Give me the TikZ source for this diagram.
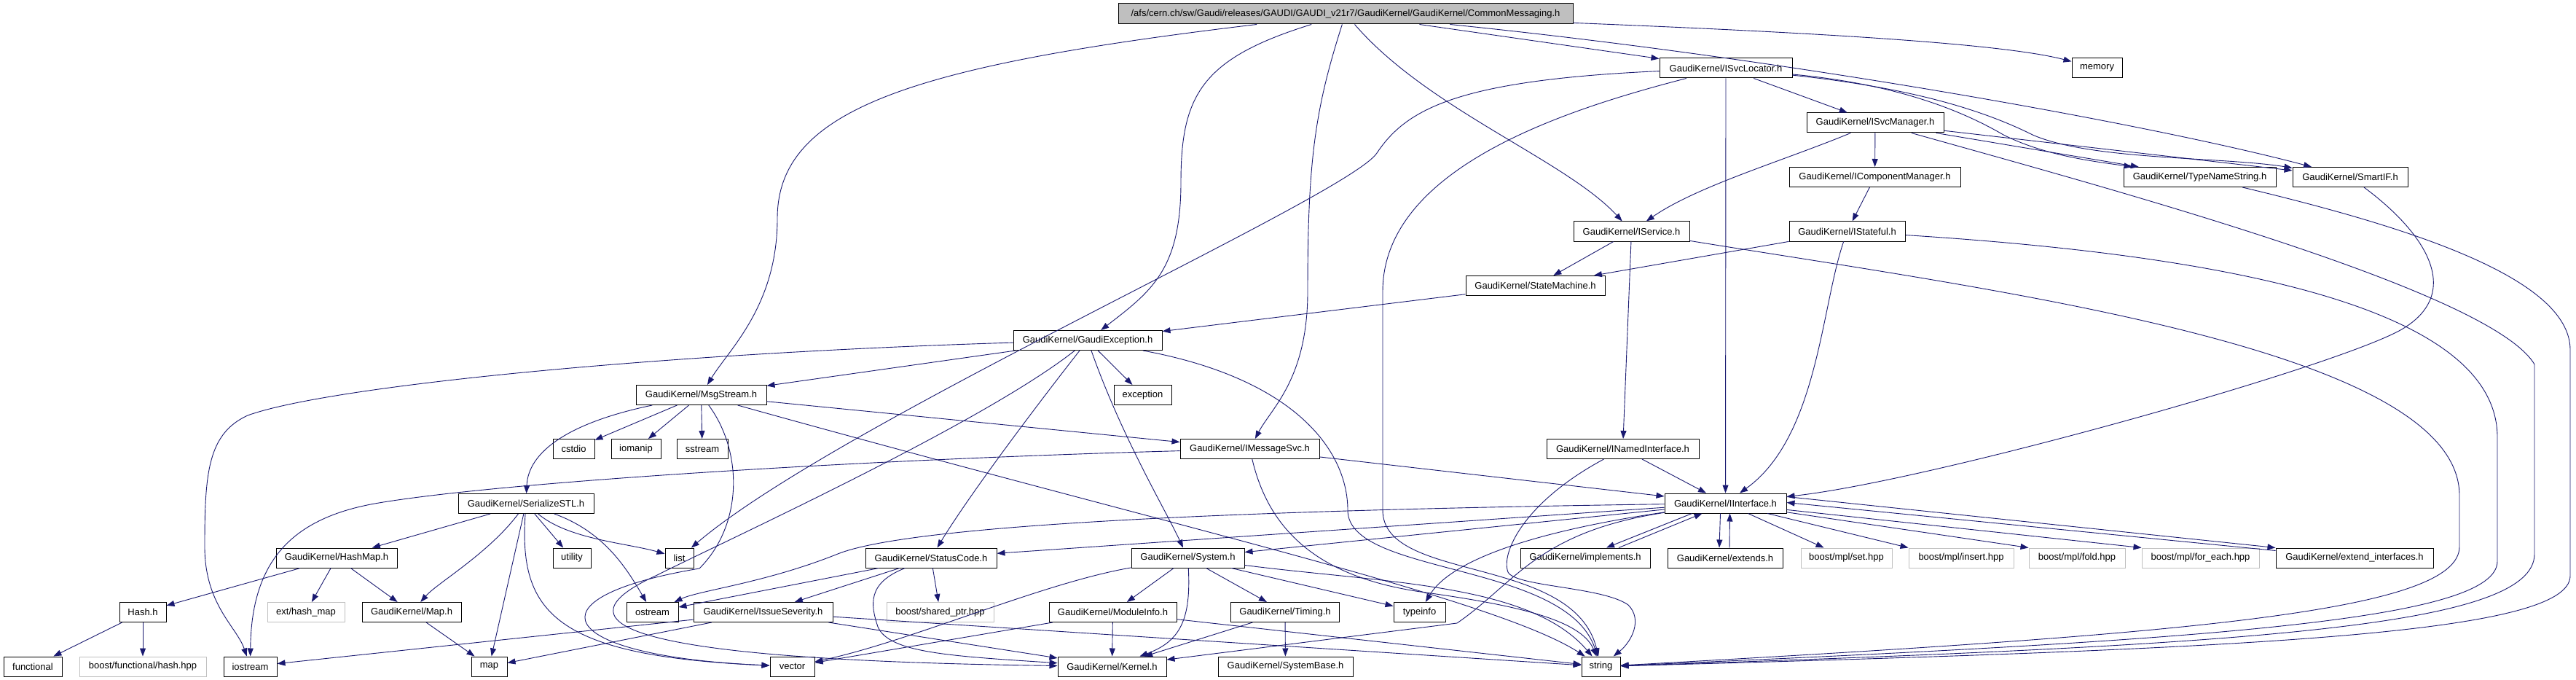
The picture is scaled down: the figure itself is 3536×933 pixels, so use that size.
\documentclass[tikz,border=0pt]{standalone}
\usepackage{fontspec}
\setmainfont{Liberation Sans}
\usetikzlibrary{arrows.meta}

\begin{document}
\begin{tikzpicture}[x=1pt, y=-1pt,
  filenode/.style={draw=black, line width=1pt, inner sep=0pt, minimum height=27pt, font=\fontsize{13}{15}\selectfont},
  sysnode/.style={filenode, draw=boxgray},
  incl/.style={draw=midnightblue, line width=0.9pt, -{Triangle[length=11pt, width=8pt]}}]

% my colors
\definecolor{midnightblue}{RGB}{25,25,112}
\definecolor{boxgray}{RGB}{191,191,191}

% canvas, fixes the size
\fill[white] (0,0) rectangle (3536,933);

% the file itself
\node[filenode, fill=boxgray, minimum width=624pt, minimum height=28pt] (main) at (1847,19) {/afs/cern.ch/sw/Gaudi/releases/GAUDI/GAUDI\_v21r7/GaudiKernel/GaudiKernel/CommonMessaging.h};

% rows of included headers, top to bottom
\node[filenode, minimum width=182pt] (ISvcLocator) at (2369,93.5) {GaudiKernel/ISvcLocator.h};
\node[filenode, minimum width=69pt] (memory) at (2878.5,93.5) {memory};

\node[filenode, minimum width=188pt] (ISvcManager) at (2574,168.5) {GaudiKernel/ISvcManager.h};

\node[filenode, minimum width=235pt] (IComponentManager) at (2573.5,243) {GaudiKernel/IComponentManager.h};
\node[filenode, minimum width=209pt] (TypeNameString) at (3019.5,243) {GaudiKernel/TypeNameString.h};
\node[filenode, minimum width=158pt] (SmartIF) at (3226,243) {GaudiKernel/SmartIF.h};

\node[filenode, minimum width=159pt] (IService) at (2239.5,317.5) {GaudiKernel/IService.h};
\node[filenode, minimum width=159pt] (IStateful) at (2535.5,317.5) {GaudiKernel/IStateful.h};

\node[filenode, minimum width=191pt] (StateMachine) at (2107.5,392) {GaudiKernel/StateMachine.h};

\node[filenode, minimum width=204pt] (GaudiException) at (1493,467) {GaudiKernel/GaudiException.h};

\node[filenode, minimum width=179pt] (MsgStream) at (962.5,542) {GaudiKernel/MsgStream.h};
\node[filenode, minimum width=79pt] (exception) at (1568.5,542) {exception};

\node[filenode, minimum width=57pt] (cstdio) at (787.5,616) {cstdio};
\node[filenode, minimum width=68pt] (iomanip) at (873,616) {iomanip};
\node[filenode, minimum width=70pt] (sstream) at (964,616) {sstream};
\node[filenode, minimum width=191pt] (IMessageSvc) at (1715.5,616) {GaudiKernel/IMessageSvc.h};
\node[filenode, minimum width=209pt] (INamedInterface) at (2227.5,616) {GaudiKernel/INamedInterface.h};

\node[filenode, minimum width=186pt] (SerializeSTL) at (722,691) {GaudiKernel/SerializeSTL.h};
\node[filenode, minimum width=167pt] (IInterface) at (2368.5,690.5) {GaudiKernel/IInterface.h};

\node[filenode, minimum width=166pt] (HashMap) at (462,765.5) {GaudiKernel/HashMap.h};
\node[filenode, minimum width=52pt] (utility) at (785,765.5) {utility};
\node[filenode, minimum width=39pt] (list) at (932.5,765.5) {list};
\node[filenode, minimum width=180pt] (StatusCode) at (1278,765.5) {GaudiKernel/StatusCode.h};
\node[filenode, minimum width=155pt] (System) at (1630.5,765.5) {GaudiKernel/System.h};
\node[filenode, minimum width=178pt] (implements) at (2176,765.5) {GaudiKernel/implements.h};
\node[filenode, minimum width=158pt] (extends) at (2368,765.5) {GaudiKernel/extends.h};
\node[sysnode, minimum width=125pt] (mplset) at (2534.5,765.5) {boost/mpl/set.hpp};
\node[sysnode, minimum width=144pt] (mplinsert) at (2692,765.5) {boost/mpl/insert.hpp};
\node[sysnode, minimum width=132pt] (mplfold) at (2851,765.5) {boost/mpl/fold.hpp};
\node[sysnode, minimum width=161pt] (mplforeach) at (3020.5,765.5) {boost/mpl/for\_each.hpp};
\node[filenode, minimum width=216pt] (extinterfaces) at (3232,765.5) {GaudiKernel/extend\_interfaces.h};

\node[filenode, minimum width=64pt] (Hash) at (196,840) {Hash.h};
\node[sysnode, minimum width=106pt] (exthashmap) at (420,840) {ext/hash\_map};
\node[filenode, minimum width=136pt] (Map) at (565,840) {GaudiKernel/Map.h};
\node[filenode, minimum width=71pt] (ostream) at (895.5,840) {ostream};
\node[filenode, minimum width=191pt] (IssueSeverity) at (1047.5,840) {GaudiKernel/IssueSeverity.h};
\node[sysnode, minimum width=147pt] (sharedptr) at (1290.5,840) {boost/shared\_ptr.hpp};
\node[filenode, minimum width=175pt] (ModuleInfo) at (1527.5,840) {GaudiKernel/ModuleInfo.h};
\node[filenode, minimum width=149pt] (Timing) at (1764,840) {GaudiKernel/Timing.h};
\node[filenode, minimum width=71pt] (typeinfo) at (1948.5,840) {typeinfo};

\node[filenode, minimum width=80pt] (functional) at (45,914.5) {functional};
\node[sysnode, minimum width=174pt] (hashhpp) at (196,914.5) {boost/functional/hash.hpp};
\node[filenode, minimum width=73pt] (iostream) at (343.5,914.5) {iostream};
\node[filenode, minimum width=49pt] (map) at (671.5,914.5) {map};
\node[filenode, minimum width=61pt] (vector) at (1087.5,914.5) {vector};
\node[filenode, minimum width=149pt] (Kernel) at (1526.5,914.5) {GaudiKernel/Kernel.h};
\node[filenode, minimum width=185pt] (SystemBase) at (1764.5,914.5) {GaudiKernel/SystemBase.h};
\node[filenode, minimum width=53pt] (string) at (2197.5,914.5) {string};

% includes of the file itself
\draw[incl] (main) .. controls (1250,90) and (1067,150) .. (1067,300) .. controls (1067,420) and (1000,480) .. (MsgStream);
\draw[incl] (main) .. controls (1650,80) and (1621,130) .. (1621,250) .. controls (1621,370) and (1580,400) .. (GaudiException);
\draw[incl] (main) .. controls (1805,150) and (1795,220) .. (1795,400) .. controls (1795,520) and (1745,560) .. (IMessageSvc);
\draw[incl] (main) .. controls (1960,150) and (2150,220) .. (IService);
\draw[incl] (main) -- (ISvcLocator);
\draw[incl] (main) .. controls (2450,80) and (2950,170) .. (SmartIF);
\draw[incl] (main) .. controls (2500,45) and (2750,60) .. (memory);

% ISvcLocator
\draw[incl] (ISvcLocator) .. controls (2000,110) and (1930,150) .. (1890,210) .. controls (1850,270) and (1150,580) .. (list);
\draw[incl] (ISvcLocator) .. controls (2150,150) and (1898,230) .. (1898,400) -- (1898,700) .. controls (1898,800) and (2160,760) .. (string);
\draw[incl] (ISvcLocator) -- (IInterface);
\draw[incl] (ISvcLocator) -- (ISvcManager);
\draw[incl] (ISvcLocator) .. controls (2600,115) and (2690,150) .. (2750,185) .. controls (2810,215) and (2880,222) .. (TypeNameString);
\draw[incl] (ISvcLocator) .. controls (2620,120) and (2720,150) .. (2790,185) .. controls (2870,220) and (3050,215) .. (SmartIF);

% ISvcManager
\draw[incl] (ISvcManager) .. controls (2450,220) and (2330,255) .. (IService);
\draw[incl] (ISvcManager) -- (IComponentManager);
\draw[incl] (ISvcManager) -- (TypeNameString);
\draw[incl] (ISvcManager) -- (SmartIF);
\draw[incl] (ISvcManager) .. controls (2900,260) and (3420,400) .. (3479,500) -- (3479,760) .. controls (3479,860) and (3100,885) .. (string);
\draw[incl] (IComponentManager) -- (IStateful);

% IService, IStateful, StateMachine
\draw[incl] (IService) -- (StateMachine);
\draw[incl] (IService) -- (INamedInterface);
\draw[incl] (IService) .. controls (2750,400) and (3376,480) .. (3376,680) -- (3376,750) .. controls (3376,840) and (3000,870) .. (string);
\draw[incl] (IStateful) -- (StateMachine);
\draw[incl] (IStateful) .. controls (2500,420) and (2495,600) .. (IInterface);
\draw[incl] (IStateful) .. controls (3050,350) and (3428,420) .. (3428,600) -- (3428,770) .. controls (3428,850) and (3050,878) .. (string);
\draw[incl] (StateMachine) -- (GaudiException);

% GaudiException
\draw[incl] (GaudiException) -- (MsgStream);
\draw[incl] (GaudiException) -- (exception);
\draw[incl] (GaudiException) .. controls (900,485) and (450,530) .. (340,570) .. controls (285,595) and (281,650) .. (281,750) .. controls (281,830) and (325,860) .. (iostream);
\draw[incl] (GaudiException) .. controls (1420,560) and (1330,680) .. (StatusCode);
\draw[incl] (GaudiException) .. controls (1350,580) and (1000,740) .. (900,790) .. controls (770,850) and (820,905) .. (Kernel);
\draw[incl] (GaudiException) .. controls (1540,600) and (1600,700) .. (System);
\draw[incl] (GaudiException) .. controls (1780,520) and (1850,620) .. (1850,700) .. controls (1850,790) and (2150,770) .. (string);

% MsgStream
\draw[incl] (MsgStream) -- (cstdio);
\draw[incl] (MsgStream) -- (iomanip);
\draw[incl] (MsgStream) -- (sstream);
\draw[incl] (MsgStream) .. controls (780,580) and (725,620) .. (SerializeSTL);
\draw[incl] (MsgStream) .. controls (1020,620) and (1020,720) .. (960,780) .. controls (720,820) and (760,900) .. (vector);
\draw[incl] (MsgStream) -- (IMessageSvc);
\draw[incl] (MsgStream) .. controls (1600,720) and (2050,820) .. (string);

% IMessageSvc
\draw[incl] (IMessageSvc) -- (IInterface);
\draw[incl] (IMessageSvc) .. controls (1200,630) and (700,660) .. (520,690) .. controls (400,710) and (345,770) .. (iostream);
\draw[incl] (IMessageSvc) .. controls (1740,720) and (1800,790) .. (1950,812) .. controls (2080,830) and (2170,850) .. (string);

% SerializeSTL, HashMap, Hash, Map
\draw[incl] (SerializeSTL) -- (HashMap);
\draw[incl] (SerializeSTL) .. controls (670,760) and (600,800) .. (Map);
\draw[incl] (SerializeSTL) -- (map);
\draw[incl] (SerializeSTL) .. controls (712,840) and (760,900) .. (vector);
\draw[incl] (SerializeSTL) -- (utility);
\draw[incl] (SerializeSTL) .. controls (780,740) and (860,745) .. (list);
\draw[incl] (SerializeSTL) .. controls (830,730) and (860,780) .. (ostream);
\draw[incl] (HashMap) -- (Hash);
\draw[incl] (HashMap) -- (exthashmap);
\draw[incl] (HashMap) -- (Map);
\draw[incl] (Hash) -- (functional);
\draw[incl] (Hash) -- (hashhpp);
\draw[incl] (Map) -- (map);

% StatusCode, IssueSeverity
\draw[incl] (StatusCode) -- (ostream);
\draw[incl] (StatusCode) -- (IssueSeverity);
\draw[incl] (StatusCode) -- (sharedptr);
\draw[incl] (StatusCode) .. controls (1190,800) and (1195,830) .. (1205,860) .. controls (1220,895) and (1300,900) .. (Kernel);
\draw[incl] (IssueSeverity) -- (iostream);
\draw[incl] (IssueSeverity) -- (map);
\draw[incl] (IssueSeverity) -- (Kernel);
\draw[incl] (IssueSeverity) -- (string);

% System, ModuleInfo, Timing
\draw[incl] (System) -- (ModuleInfo);
\draw[incl] (System) -- (Timing);
\draw[incl] (System) -- (typeinfo);
\draw[incl] (System) .. controls (1900,800) and (2100,800) .. (string);
\draw[incl] (System) .. controls (1635,850) and (1620,880) .. (Kernel);
\draw[incl] (System) .. controls (1430,800) and (1250,880) .. (vector);
\draw[incl] (ModuleInfo) -- (Kernel);
\draw[incl] (ModuleInfo) -- (vector);
\draw[incl] (ModuleInfo) -- (string);
\draw[incl] (Timing) -- (Kernel);
\draw[incl] (Timing) -- (SystemBase);

% IInterface
\draw[incl] (IInterface) .. controls (1700,700) and (1250,720) .. (1150,760) .. controls (1050,800) and (960,810) .. (ostream);
\draw[incl] (IInterface) -- (StatusCode);
\draw[incl] (IInterface) -- (System);
\draw[incl] (IInterface) .. controls (2100,730) and (1990,770) .. (typeinfo);
\draw[incl] (IInterface) .. controls (2110,730) and (2080,800) .. (2000,855) -- (Kernel);
\draw[incl] ([xshift=-46pt]IInterface.south) -- ([xshift=29pt]implements.north);
\draw[incl] ([xshift=46pt]implements.north) -- ([xshift=-32pt]IInterface.south);
\draw[incl] ([xshift=-7pt]IInterface.south) -- ([xshift=-8pt]extends.north);
\draw[incl] ([xshift=6pt]extends.north) -- ([xshift=6pt]IInterface.south);
\draw[incl] (IInterface) -- (mplset);
\draw[incl] (IInterface) -- (mplinsert.north west);
\draw[incl] (IInterface) -- (mplfold.north west);
\draw[incl] (IInterface) -- (mplforeach.north west);
\draw[incl] ([yshift=-5pt]IInterface.north east) -- (extinterfaces.north west);
\draw[incl] ([yshift=-4pt]extinterfaces.north west) -- ([yshift=-13pt]IInterface.north east);

% INamedInterface, TypeNameString, SmartIF
\draw[incl] (INamedInterface) -- (IInterface);
\draw[incl] (INamedInterface) .. controls (2090,690) and (2060,760) .. (2070,785) .. controls (2080,805) and (2200,805) .. (2235,830) .. controls (2255,850) and (2240,880) .. (string);
\draw[incl] (TypeNameString) .. controls (3300,310) and (3528,380) .. (3528,480) -- (3528,790) .. controls (3528,870) and (3100,890) .. (string);
\draw[incl] (SmartIF) .. controls (3330,320) and (3380,400) .. (3300,450) .. controls (3220,500) and (2650,660) .. (IInterface);

\end{tikzpicture}
\end{document}
